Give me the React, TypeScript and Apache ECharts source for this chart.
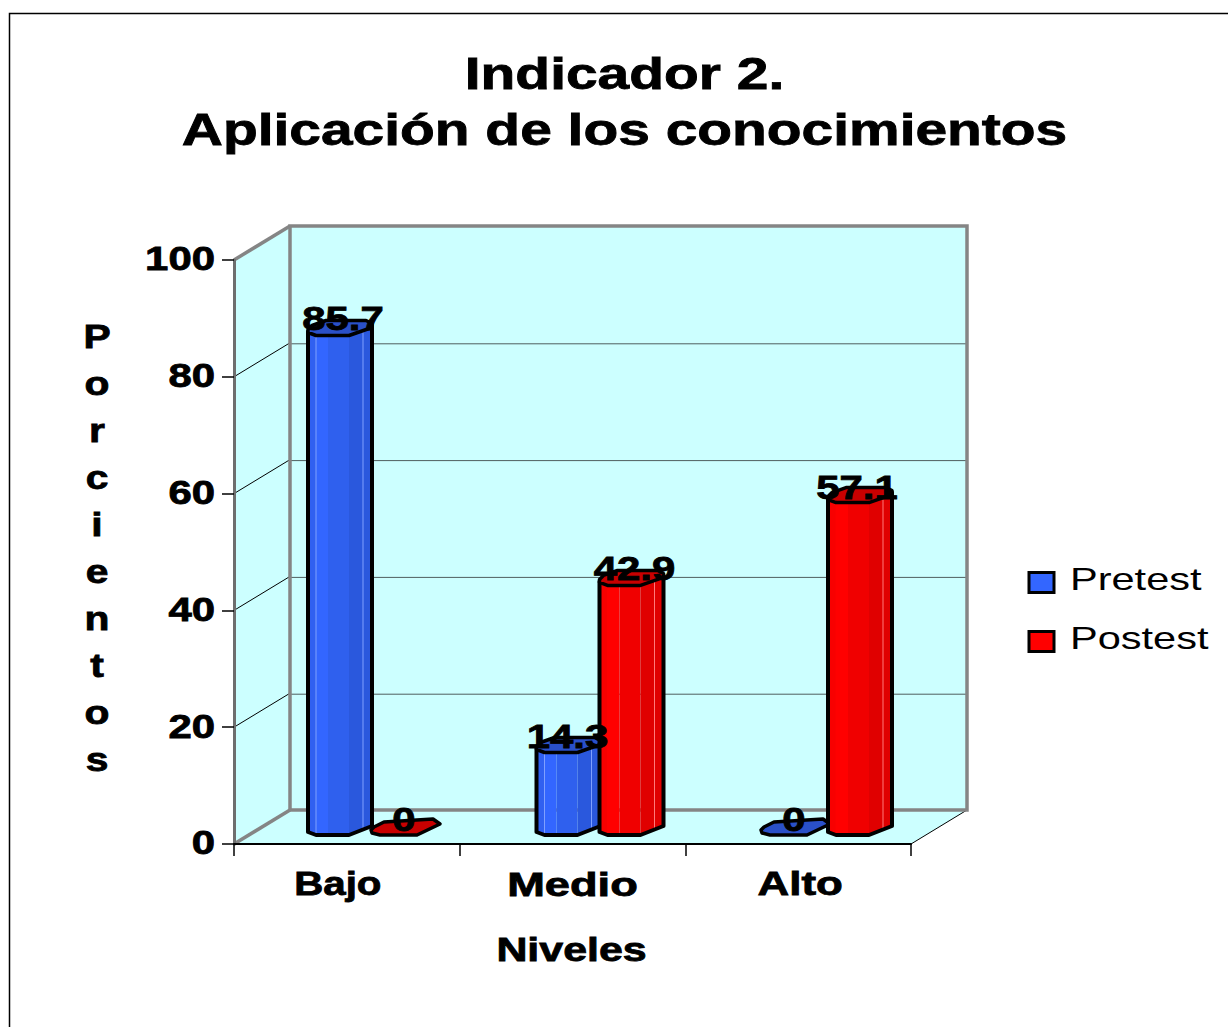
import React, { useEffect, useRef } from "react";
import * as echarts from "echarts";

const categories = ["Bajo", "Medio", "Alto"];
const pretest = [85.7, 14.3, 0];
const postest = [0, 42.9, 57.1];
const yTicks = [0, 20, 40, 60, 80, 100];
const titleText = "Indicador 2.\nAplicación de los conocimientos";
const yAxisTitle = ["P", "o", "r", "c", "i", "e", "n", "t", "o", "s"];
const xAxisTitle = "Niveles";
const seriesNames = ["Pretest", "Postest"];

const FONT = '"Liberation Sans", Arial, sans-serif';
const DEPTH_X = 56;
const DEPTH_Y = -34;
const WALL = "#CCFFFF";
const GRAY = "#858585";
const STRETCH = 1.27;
const HEAVY = { fontWeight: "bold", stroke: "#000", lineWidth: 0.8 };

const BLUE = { strip: "#3060F0", main: "#3366FF", right: "#2F60EE", side: "#2A58DD", top: "#2A50C8", line: "#7FA0FF", leftLine: "#7FA0FF" };
const RED = { strip: "#F80000", main: "#FF0000", right: "#F00000", side: "#E00000", top: "#C80000", line: "#FF7A7A", leftLine: "#FF0000" };

const lineEl = (x1: number, y1: number, x2: number, y2: number, stroke: string, lineWidth: number) => ({
  type: "line",
  shape: { x1, y1, x2, y2 },
  style: { stroke, lineWidth },
});

const poly = (points: number[][], fill: string) => ({ type: "polygon", shape: { points }, style: { fill, stroke: "none" } });

function wallsRender(params: any, api: any) {
  const tick = api.value(1);
  const band = api.size([1, 0])[0];
  const left = api.coord([0, 0])[0] - band / 2;
  const right = left + band * 3;
  const y0 = api.coord([0, 0])[1];
  const y100 = api.coord([0, 100])[1];
  const y = api.coord([0, tick])[1];
  const children: any[] = [];
  const dx = DEPTH_X;
  const dy = DEPTH_Y;
  if (params.dataIndex === 0) {
    const bl = left + dx;
    const br = right + dx;
    children.push(
      poly([[left, y100], [bl, y100 + dy], [bl, y0 + dy], [left, y0]], WALL),
      poly([[bl, y100 + dy], [br, y100 + dy], [br, y0 + dy], [bl, y0 + dy]], WALL),
      poly([[left, y0], [bl, y0 + dy], [br, y0 + dy], [right, y0]], WALL),
      lineEl(right, y0, br, y0 + dy, "#000", 1),
      lineEl(left, y100, bl, y100 + dy, GRAY, 3.5),
      lineEl(left, y0, bl, y0 + dy, GRAY, 3.5),
    );
  }
  if (tick > 0 && tick < 100) {
    children.push(
      lineEl(left, y, left + dx, y + dy, "#000", 1),
      lineEl(left + dx, y + dy + 1, right + dx, y + dy + 1, "#4F5E5E", 1),
    );
  }
  if (params.dataIndex === yTicks.length - 1) {
    const bl = left + dx;
    const br = right + dx;
    children.push({
      type: "polyline",
      shape: { points: [[bl, y0 + dy], [br, y0 + dy], [br, y100 + dy], [bl, y100 + dy], [bl, y0 + dy]] },
      style: { fill: "none", stroke: GRAY, lineWidth: 3.5 },
    });
  }
  children.push({
    type: "text",
    x: left - 19,
    y: y - 1,
    scaleX: STRETCH,
    style: { text: String(tick), fontFamily: FONT, fontSize: 33, fill: "#000", textAlign: "right", textVerticalAlign: "middle", ...HEAVY },
  });
  return { type: "group", children };
}

const makeBarRender = (isFirst: boolean, c: typeof BLUE) => (_params: any, api: any) => {
  const cat = api.value(0);
  const v = api.value(1);
  const cx = api.coord([cat, 0])[0];
  const yb = api.coord([cat, 0])[1];
  const yt = api.coord([cat, v])[1];
  const flat = v === 0;
  const x0 = isFirst ? cx - 63 - (flat ? 4 : 0) : cx;
  const children: any[] = [];
  const topPts = flat
    ? [[0, -5], [3, -8], [13, -13], [62, -16], [69, -11], [46, 0], [9, 0], [1, -2]]
    : [[0, -2], [8, 1], [41, 1], [64, -7], [64, -11], [58, -14], [18, -14], [4, -9], [0, -5]];
  const P = (pts: number[][], base: number) => pts.map((p) => [x0 + p[0], base + p[1]]);
  if (!flat) {
    const face = (a: number, b: number, da: number, db: number, fill: string) =>
      poly([[x0 + a, yt + da], [x0 + b, yt + db], [x0 + b, yb + db], [x0 + a, yb + da]], fill);
    children.push(
      face(0, 8, -3, 0, c.strip),
      face(8, 20, 0, 0, c.main),
      face(20, 41, 0, 0, c.right),
      face(41, 64, 0, -9, c.side),
      { type: "line", shape: { x1: x0 + 8, y1: yt, x2: x0 + 8, y2: yb }, style: { stroke: c.leftLine, lineWidth: 1 } },
      { type: "line", shape: { x1: x0 + 55, y1: yt - 5, x2: x0 + 55, y2: yb - 5 }, style: { stroke: c.line, lineWidth: 1 } },
      {
        type: "polygon",
        shape: { points: [[x0, yt - 3], [x0, yb - 3], [x0 + 8, yb], [x0 + 41, yb], [x0 + 64, yb - 9], [x0 + 64, yt - 9]] },
        style: { fill: "none", stroke: "#000", lineWidth: 4, lineJoin: "round" },
      },
    );
  }
  children.push({
    type: "polygon",
    shape: { points: P(topPts, flat ? yb : yt) },
    style: { fill: c.top, stroke: "#000", lineWidth: 3.5, lineJoin: "round" },
  });
  return { type: "group", children };
};

const labelNudgeFirst = [[2, 0], [-2, 1], [-4, 0]];
const labelNudgeSecond = [[0, 0], [2, 0], [-4, 2]];
const makeLabelRender = (isFirst: boolean) => (params: any, api: any) => {
  const cat = api.value(0);
  const v = api.value(1);
  const cx = api.coord([cat, 0])[0];
  const yt = api.coord([cat, v])[1];
  const x0 = isFirst ? cx - 63 : cx;
  const n = (isFirst ? labelNudgeFirst : labelNudgeSecond)[params.dataIndex];
  return {
    type: "text",
    x: x0 + 33 + n[0],
    y: yt - 15.5 + n[1],
    scaleX: STRETCH,
    style: { text: String(v), fontFamily: FONT, fontSize: 33, fill: "#000", textAlign: "center", textVerticalAlign: "middle", ...HEAVY },
  };
};

const xLabelNudge = [-9, 0, 2];
const xLabelStretch = [1.22, 1.37, 1.33];
function xLabelRender(params: any, api: any) {
  const p = api.coord([params.dataIndex, 0]);
  return {
    type: "text",
    x: p[0] + xLabelNudge[params.dataIndex],
    y: p[1] + 40,
    scaleX: xLabelStretch[params.dataIndex],
    style: { text: categories[params.dataIndex], fontFamily: FONT, fontSize: 33, fill: "#000", textAlign: "center", textVerticalAlign: "middle", ...HEAVY },
  };
}

const toData = (values: number[]) => values.map((v, i) => [i, v]);

export default function App() {
  const ref = useRef<HTMLDivElement>(null);
  useEffect(() => {
    const chart = echarts.init(ref.current!, undefined, { renderer: "svg" });
    const plainText = (text: string, x: number, y: number, fontSize: number, scaleX: number, extra: any = {}) => ({
      type: "text",
      x,
      y,
      scaleX,
      z: 20,
      style: { text, fontFamily: FONT, fontSize, fill: "#000", textAlign: "center", textVerticalAlign: "middle", ...HEAVY, ...extra },
    });
    const legendItem = (name: string, fill: string, y: number) => [
      { type: "rect", z: 20, shape: { x: 1029, y, width: 25, height: 20 }, style: { fill, stroke: "#000", lineWidth: 3 } },
      {
        type: "text",
        z: 20,
        x: 1070,
        y: y + 7,
        scaleX: 1.34,
        style: { text: name, fontFamily: FONT, fontSize: 31, fill: "#000", textAlign: "left", textVerticalAlign: "middle" },
      },
    ];
    chart.setOption({
      animation: false,
      backgroundColor: "#fff",
      grid: [
        { left: 234, top: 260, width: 677, height: 584 },
        { left: 256.75, top: 251, width: 685.5, height: 584 },
      ],
      xAxis: [
        {
          type: "category",
          gridIndex: 0,
          data: categories,
          z: 6,
          axisLine: { lineStyle: { color: "#000", width: 2 } },
          axisTick: { show: true, length: 12, lineStyle: { color: "#000", width: 1.5 } },
          axisLabel: { show: false },
        },
        { type: "category", gridIndex: 1, data: categories, show: false },
      ],
      yAxis: [
        {
          type: "value",
          gridIndex: 0,
          min: 0,
          max: 100,
          interval: 20,
          z: 6,
          axisLine: { show: true, lineStyle: { color: "#6E6E6E", width: 3 } },
          axisTick: { show: true, length: 12, lineStyle: { color: "#000", width: 1.5 } },
          axisLabel: { show: false },
          splitLine: { show: false },
        },
        { type: "value", gridIndex: 1, min: 0, max: 100, interval: 20, show: false },
      ],
      graphic: [
        { type: "rect", z: 1, shape: { x: 9.5, y: 13.5, width: 1400, height: 1200 }, style: { fill: "none", stroke: "#000", lineWidth: 1.5 } },
        plainText(titleText, 624.5, 102, 45, 1.265, { lineHeight: 56 }),
        plainText(xAxisTitle, 571.5, 949, 33, 1.3),
        plainText(yAxisTitle.join("\n"), 97, 548, 34, 1.2, { lineHeight: 47 }),
        ...legendItem(seriesNames[0], BLUE.main, 572.5),
        ...legendItem(seriesNames[1], RED.main, 631.5),
      ],
      series: [
        { type: "custom", name: "Muros", xAxisIndex: 0, yAxisIndex: 0, z: 1, silent: true, renderItem: wallsRender, data: yTicks.map((t) => [0, t]) },
        { type: "custom", name: "Ejes", xAxisIndex: 0, yAxisIndex: 0, z: 7, silent: true, renderItem: xLabelRender, data: categories.map((_, i) => [i, 0]) },
        { type: "custom", name: seriesNames[0], xAxisIndex: 1, yAxisIndex: 1, z: 3, renderItem: makeBarRender(true, BLUE), data: toData(pretest) },
        { type: "custom", name: seriesNames[1], xAxisIndex: 1, yAxisIndex: 1, z: 4, renderItem: makeBarRender(false, RED), data: toData(postest) },
        { type: "custom", name: seriesNames[0] + " etiquetas", xAxisIndex: 1, yAxisIndex: 1, z: 8, silent: true, renderItem: makeLabelRender(true), data: toData(pretest) },
        { type: "custom", name: seriesNames[1] + " etiquetas", xAxisIndex: 1, yAxisIndex: 1, z: 8, silent: true, renderItem: makeLabelRender(false), data: toData(postest) },
      ],
    });
    return () => chart.dispose();
  }, []);
  return <div ref={ref} style={{ position: "absolute", left: 0, top: 0, width: 1228, height: 1027, overflow: "hidden" }} />;
}
